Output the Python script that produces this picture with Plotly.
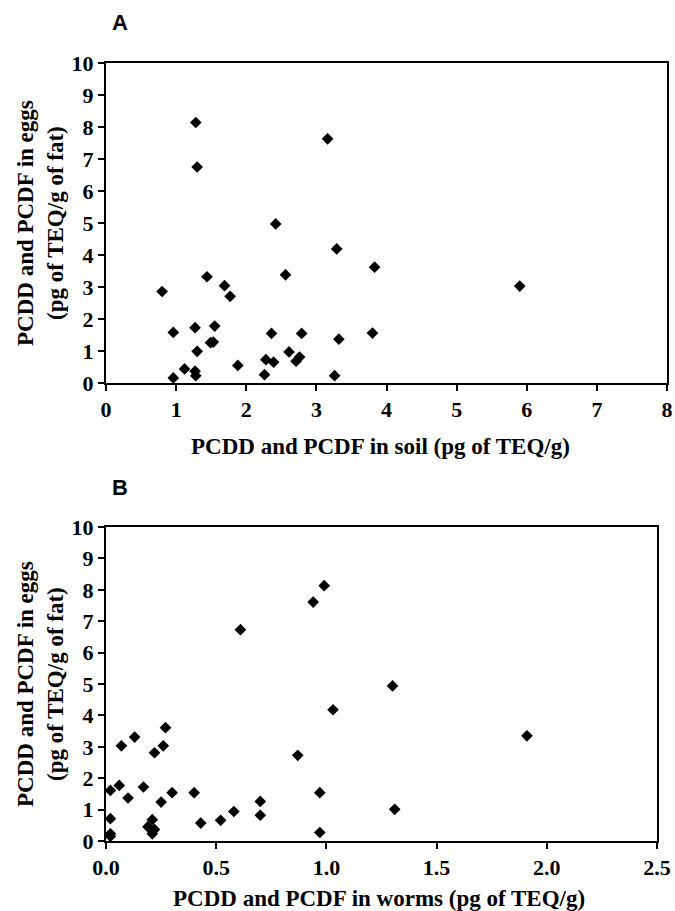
import plotly.graph_objects as go

# Panel A: soil vs eggs
soil = [1.28, 1.30, 3.16, 2.42, 3.29, 1.44, 2.56, 0.80, 1.69, 1.77, 0.96, 1.27, 1.55, 1.49,
        1.53, 1.30, 2.36, 2.79, 1.12, 0.96, 1.27, 1.28, 1.88, 2.28, 2.39, 2.26, 2.61, 2.71,
        2.76, 3.26, 3.32, 3.83, 5.90, 3.80]
eggs_a = [8.14, 6.75, 7.63, 4.97, 4.19, 3.32, 3.38, 2.86, 3.04, 2.71, 1.58, 1.73, 1.78, 1.26,
          1.28, 0.99, 1.55, 1.55, 0.44, 0.16, 0.37, 0.23, 0.55, 0.73, 0.65, 0.26, 0.97, 0.68,
          0.81, 0.23, 1.37, 3.62, 3.03, 1.56]

# Panel B: worms vs eggs
worms = [0.99, 0.94, 0.61, 1.03, 0.27, 0.13, 0.07, 0.26, 0.22, 0.87, 0.02, 0.06, 0.17, 0.10,
         0.30, 0.40, 0.25, 0.97, 0.70, 0.70, 0.58, 0.52, 0.43, 0.02, 0.21, 0.19, 0.22, 0.21,
         0.02, 0.02, 0.97, 1.30, 1.91, 1.31]
eggs_b = [8.13, 7.61, 6.73, 4.18, 3.61, 3.31, 3.03, 3.03, 2.81, 2.73, 1.61, 1.77, 1.72, 1.37,
          1.54, 1.54, 1.24, 1.54, 1.26, 0.82, 0.94, 0.66, 0.57, 0.71, 0.68, 0.45, 0.37, 0.23,
          0.23, 0.15, 0.27, 4.94, 3.35, 1.01]

x_ticks_a = [0, 1, 2, 3, 4, 5, 6, 7, 8]
x_ticks_b = [0.0, 0.5, 1.0, 1.5, 2.0, 2.5]
y_ticks = [0, 1, 2, 3, 4, 5, 6, 7, 8, 9, 10]

x_title_a = "PCDD and PCDF in soil (pg of TEQ/g)"
x_title_b = "PCDD and PCDF in worms (pg of TEQ/g)"
y_title = "PCDD and PCDF in eggs<br>(pg of TEQ/g of fat)"

W, H = 675, 911
SERIF = "Liberation Serif"


def px_x(p):
    return p / W


def px_y(p):
    return 1 - p / H


def bold_labels(vals, fmt):
    return ["<b>" + format(v, fmt) + "</b>" for v in vals]


marker = dict(symbol="diamond", size=9, color="black", line=dict(width=0))

fig = go.Figure()
fig.add_trace(go.Scatter(x=soil, y=eggs_a, mode="markers", marker=marker,
                         xaxis="x", yaxis="y", cliponaxis=False, showlegend=False))
fig.add_trace(go.Scatter(x=worms, y=eggs_b, mode="markers", marker=marker,
                         xaxis="x2", yaxis="y2", cliponaxis=False, showlegend=False))

tickfont = dict(family=SERIF, size=22, color="black")
titlefont = dict(family=SERIF, size=23, color="black")

common_axis = dict(showline=True, linewidth=2, linecolor="black", mirror=True,
                   ticks="outside", ticklen=6, tickwidth=1.5, tickcolor="black",
                   showgrid=False, zeroline=False, tickfont=tickfont, automargin=False)


def title_ann(text, x, y, angle=0):
    return dict(text="<b>" + text + "</b>", x=px_x(x), y=px_y(y), xref="paper", yref="paper",
                showarrow=False, xanchor="center", yanchor="middle", textangle=angle,
                font=titlefont)


fig.update_layout(
    width=W, height=H,
    margin=dict(l=0, r=0, t=0, b=0),
    paper_bgcolor="white", plot_bgcolor="white",
    font=dict(family=SERIF, size=22, color="black"),
    xaxis=dict(domain=[px_x(106), px_x(667)], range=[0, 8], tickmode="array",
               tickvals=x_ticks_a, ticktext=bold_labels(x_ticks_a, "d"), anchor="y",
               **common_axis),
    yaxis=dict(domain=[px_y(383), px_y(63)], range=[0, 10], tickmode="array",
               tickvals=y_ticks, ticktext=bold_labels(y_ticks, "d"), anchor="x",
               **common_axis),
    xaxis2=dict(domain=[px_x(106), px_x(657)], range=[0, 2.5], tickmode="array",
                tickvals=x_ticks_b, ticktext=bold_labels(x_ticks_b, ".1f"), anchor="y2",
                **common_axis),
    yaxis2=dict(domain=[px_y(841), px_y(527)], range=[0, 10], tickmode="array",
                tickvals=y_ticks, ticktext=bold_labels(y_ticks, "d"), anchor="x2",
                **common_axis),
    annotations=[
        dict(text="<b>A</b>", x=px_x(120), y=px_y(22), xref="paper", yref="paper",
             showarrow=False, xanchor="center", yanchor="middle",
             font=dict(family="Liberation Sans", size=22, color="black")),
        dict(text="<b>B</b>", x=px_x(120), y=px_y(487), xref="paper", yref="paper",
             showarrow=False, xanchor="center", yanchor="middle",
             font=dict(family="Liberation Sans", size=22, color="black")),
        title_ann(x_title_a, 380, 446),
        title_ann(x_title_b, 379, 898),
        title_ann(y_title, 40, 223, -90),
        title_ann(y_title, 40, 684, -90),
    ],
)

fig.write_html("out.html", config={"displayModeBar": False},
               post_script="document.body.style.margin='0';document.body.style.overflow='hidden';")
